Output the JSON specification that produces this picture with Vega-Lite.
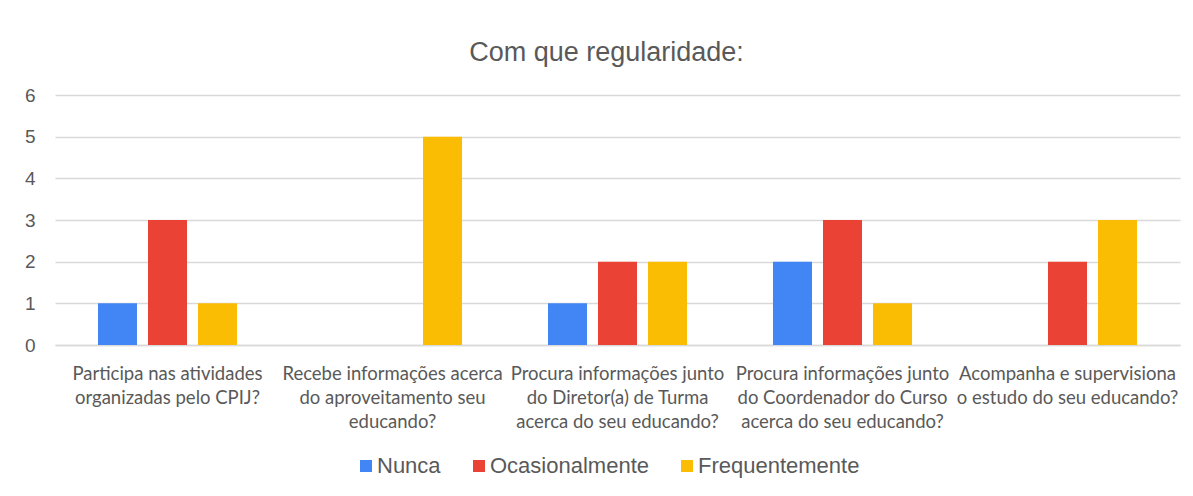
{
  "$schema": "https://vega.github.io/schema/vega-lite/v6.json",
  "autosize": "none",
  "width": 1125,
  "height": 250,
  "padding": {"left": 55, "top": 95, "right": 13, "bottom": 151},
  "background": "white",
  "title": {
    "text": "Com que regularidade:",
    "font": "Liberation Sans",
    "fontSize": 27,
    "fontWeight": "normal",
    "color": "#595959",
    "anchor": "middle",
    "dx": -11,
    "baseline": "alphabetic",
    "offset": -2
  },
  "data": {
    "values": [
      {"pergunta": "Participa nas atividades organizadas pelo CPIJ?", "resposta": "Nunca", "n": 1},
      {"pergunta": "Participa nas atividades organizadas pelo CPIJ?", "resposta": "Ocasionalmente", "n": 3},
      {"pergunta": "Participa nas atividades organizadas pelo CPIJ?", "resposta": "Frequentemente", "n": 1},
      {"pergunta": "Recebe informações acerca do aproveitamento seu educando?", "resposta": "Nunca", "n": 0},
      {"pergunta": "Recebe informações acerca do aproveitamento seu educando?", "resposta": "Ocasionalmente", "n": 0},
      {"pergunta": "Recebe informações acerca do aproveitamento seu educando?", "resposta": "Frequentemente", "n": 5},
      {"pergunta": "Procura informações junto do Diretor(a) de Turma acerca do seu educando?", "resposta": "Nunca", "n": 1},
      {"pergunta": "Procura informações junto do Diretor(a) de Turma acerca do seu educando?", "resposta": "Ocasionalmente", "n": 2},
      {"pergunta": "Procura informações junto do Diretor(a) de Turma acerca do seu educando?", "resposta": "Frequentemente", "n": 2},
      {"pergunta": "Procura informações junto do Coordenador do Curso acerca do seu educando?", "resposta": "Nunca", "n": 2},
      {"pergunta": "Procura informações junto do Coordenador do Curso acerca do seu educando?", "resposta": "Ocasionalmente", "n": 3},
      {"pergunta": "Procura informações junto do Coordenador do Curso acerca do seu educando?", "resposta": "Frequentemente", "n": 1},
      {"pergunta": "Acompanha e supervisiona o estudo do seu educando?", "resposta": "Nunca", "n": 0},
      {"pergunta": "Acompanha e supervisiona o estudo do seu educando?", "resposta": "Ocasionalmente", "n": 2},
      {"pergunta": "Acompanha e supervisiona o estudo do seu educando?", "resposta": "Frequentemente", "n": 3}
    ]
  },
  "mark": {"type": "bar"},
  "encoding": {
    "x": {
      "field": "pergunta",
      "type": "nominal",
      "sort": null,
      "scale": {"paddingInner": 0.382, "paddingOuter": 0.191},
      "axis": {
        "title": null,
        "labelAngle": 0,
        "labelFont": "Lato",
        "labelFontSize": 18.5,
        "labelColor": "#595959",
        "labelLineHeight": 24,
        "labelPadding": 19,
        "labelBaseline": "top",
        "labelLimit": 0,
        "ticks": false,
        "domainColor": "#d9d9d9",
        "domainWidth": 1.5,
        "labelExpr": "datum.label == 'Participa nas atividades organizadas pelo CPIJ?' ? ['Participa nas atividades', 'organizadas pelo CPIJ?'] : datum.label == 'Recebe informações acerca do aproveitamento seu educando?' ? ['Recebe informações acerca', 'do aproveitamento seu', 'educando?'] : datum.label == 'Procura informações junto do Diretor(a) de Turma acerca do seu educando?' ? ['Procura informações junto', 'do Diretor(a) de Turma', 'acerca do seu educando?'] : datum.label == 'Procura informações junto do Coordenador do Curso acerca do seu educando?' ? ['Procura informações junto', 'do Coordenador do Curso', 'acerca do seu educando?'] : ['Acompanha e supervisiona', 'o estudo do seu educando?']"
      }
    },
    "xOffset": {
      "field": "resposta",
      "type": "nominal",
      "sort": ["Nunca", "Ocasionalmente", "Frequentemente"],
      "scale": {"paddingInner": 0.22, "paddingOuter": 0}
    },
    "y": {
      "field": "n",
      "type": "quantitative",
      "scale": {"domain": [0, 6], "nice": false},
      "axis": {
        "title": null,
        "values": [0, 1, 2, 3, 4, 5, 6],
        "labelFont": "Liberation Sans",
        "labelFontSize": 19,
        "labelColor": "#595959",
        "labelPadding": 20,
        "ticks": false,
        "domain": false,
        "gridColor": "#d9d9d9",
        "gridWidth": 1.5
      }
    },
    "color": {
      "field": "resposta",
      "type": "nominal",
      "sort": ["Nunca", "Ocasionalmente", "Frequentemente"],
      "scale": {"domain": ["Nunca", "Ocasionalmente", "Frequentemente"], "range": ["#4285F4", "#EA4335", "#FBBC04"]},
      "legend": {
        "title": null,
        "orient": "none",
        "direction": "horizontal",
        "legendX": 300,
        "legendY": 360,
        "symbolType": "square",
        "symbolSize": 144,
        "symbolStrokeWidth": 0,
        "symbolOpacity": 1,
        "labelFont": "Liberation Sans",
        "labelFontSize": 22,
        "labelColor": "#595959",
        "labelOffset": 0,
        "columnPadding": 27,
        "labelLimit": 0
      }
    }
  },
  "config": {
    "view": {"stroke": null}
  }
}
